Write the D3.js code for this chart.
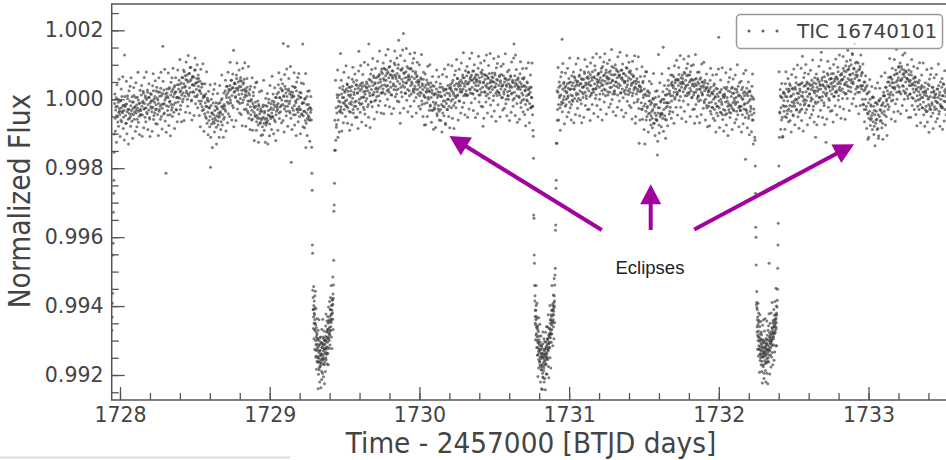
<!DOCTYPE html>
<html>
<head>
<meta charset="utf-8">
<script src="https://cdn.jsdelivr.net/npm/d3@7"></script>
<style>
  body { margin: 0; background: #ffffff; }
  svg { display: block; }
</style>
</head>
<body>
<svg id="chart" width="946" height="460"></svg>
<script>
// TESS light curve of TIC 16740101.
// Each block is sampled at a fixed cadence; flux is stored in units of 1e-5 around 1.
// Blocks 8-11 are the interleaved in-between samples of the baseline stretches,
// blocks 12-14 the interleaved samples of the three eclipse floors.
var segStart = [1727.946, 1727.964, 1729.277, 1729.438, 1730.757, 1730.918, 1732.240, 1732.401,
                1727.96575, 1729.43975, 1730.91975, 1732.40275,
                1729.2906, 1730.7722, 1732.2536];
var segStep  = [0.0016, 0.0035, 0.0016, 0.0035, 0.0016, 0.0035, 0.0016, 0.0035,
                0.0035, 0.0035, 0.0035, 0.0035,
                0.0016, 0.0016, 0.0016];

var egress0 = [-670,-632,-592,-563,-452,-418,-328,-273,-235,-154,-101];

var baseA = [
  -12,-55,-31,4,-48,-20,-66,-9,-38,-27, -44,-3,-61,-25,8,-39,-18,-52,-33,128,
  -21,-47,-70,-14,-36,2,-58,-29,-41,-5, -50,-19,-33,-64,-8,-27,-45,11,-37,-22,
  5,-40,-17,-58,-26,-2,-35,-49,-11,-30, -33,12,-20,-46,-6,18,-28,-12,-52,4,
  -25,-1,-42,20,-15,-31,6,-57,-10,-22, 14,-36,-4,-23,25,-47,-9,8,-30,-16,
  -28,3,-44,21,-12,-35,9,-20,32,-50, 11,-26,154,-14,27,-40,-2,15,-215,-19,
  18,-33,4,-21,30,-8,-45,12,-15,22, -24,28,7,-38,15,40,-10,22,-31,5,
  42,-8,30,55,3,21,-18,47,12,33, 62,18,45,80,9,38,57,24,70,0,
  50,15,75,33,92,20,58,-2,41,66, 22,64,40,8,85,47,29,60,12,51,
  38,-5,26,52,-14,17,35,-22,44,4, -30,8,-42,-10,15,-55,-22,3,-38,-6,
  -62,-25,-50,-197,-18,-72,-40,-57,-11,-45, -70,-33,-54,-20,-81,-48,-29,-63,-12,-52,
  -48,-10,-36,-65,-22,2,-44,-27,-58,-15, -20,25,-35,12,38,-8,18,-42,30,5,
  40,-2,28,55,11,-18,33,142,20,47, 45,8,32,60,-5,26,50,14,38,-12,
  2,36,52,15,-10,44,27,58,6,30, 22,-28,10,35,-15,-40,18,-5,28,-22,
  -45,0,-32,-58,-12,10,-38,-25,-50,-8, -20,-65,-48,-30,-75,-15,-55,-42,-68,-28,
  -60,-35,-80,-22,-52,-70,-40,-58,-18,-75, -55,-20,-62,-45,-10,-48,-72,-30,-56,-25,
  -40,-5,-52,-30,-15,-60,-22,5,-45,-35, 15,-30,-12,20,-40,5,-22,32,-18,-2,
  25,-15,162,10,-28,38,-5,18,-35,8, -20,154,30,-12,15,-40,22,-183,5,-25,
  20,-32,8,-18,35,-45,-10,25,-28,0, -38,10,-22,-50,5,-30,18,-42,-12,160,
  -48,-10,-35,0,-62,-140,-40,8,-55,-30, -15,-52,-25,-60,-38
];

var eclipse1 = [
  -30,-60,-139,-215,-264,-423,-447,-554,
  -575,-610,-632,-598,-650,-621,-668,-640,-605,-672,
  -700,-655,-728,-690,-745,-710,-683,-760,-722,-698,
  -750,-840,-718,-762,-735,-700,-778,-745,-712,-755,
  -728,-770,-742,-705,-765,-738,-790,-720,-752,-708,
  -745,-712,-768,-730,-695,-752,-725,-740,-700,-762,
  -710,-735,-688,-750,-702,-725,-675,-718,-740,-690,
  -705,-668,-720,-650,-692,-678,-640,-700,-662,-685,
  -630,-672,-645,-610,-660,-625,-648,-598,-638,-612,
  -580,-620,-595,-565,
  -577,-539,-467,-325,-307,-244,-148,-61
];

var baseB = [
  -148,-119,-81,-40,5,-110,-20,12,-35,-8, 133,-22,15,-40,28,-10,5,-30,20,-5,
  -18,30,-2,42,-25,12,35,-12,8,-38, 25,-15,38,3,-30,50,14,-8,30,-20,
  -5,40,18,-28,32,139,0,25,-15,45, 30,-12,48,5,22,-30,40,15,-5,35,
  2,45,25,-15,160,38,10,55,-8,28, 50,12,40,68,20,-5,45,30,62,8,
  22,65,48,10,72,35,58,18,80,40, 75,30,60,90,42,15,68,55,85,25,
  40,78,62,20,95,50,35,70,12,65, 82,45,28,70,100,38,60,15,75,52,
  30,171,68,45,-70,85,20,58,90,40, 191,75,35,62,18,80,48,95,28,55,
  70,25,58,88,40,15,65,45,82,30, 20,60,38,75,5,50,68,28,55,42,
  50,10,35,62,18,-5,45,28,58,12, -75,35,5,42,20,-10,30,48,0,25,
  22,-20,35,5,-32,18,40,-8,12,-25, -28,15,-10,30,-42,5,22,-18,-35,10,
  20,-30,8,-15,35,-40,-5,25,-22,12, -70,28,-12,18,-30,40,0,-20,32,10,
  35,-5,25,48,0,20,-18,40,10,30, 5,45,28,60,12,38,-5,50,22,40,
  55,20,48,70,30,10,62,38,15,52, 25,68,45,12,78,50,30,60,18,55,
  70,35,55,15,82,48,28,65,40,58, 55,25,70,40,12,62,48,30,78,20,
  65,35,-78,50,72,22,58,40,10,68, 45,15,60,30,75,48,20,55,38,65,
  28,62,10,50,35,70,18,45,58,25, 55,20,40,65,12,48,30,72,38,5,
  42,68,15,50,28,60,0,38,55,22, 10,45,58,25,40,65,15,35,50,-2,
  48,160,20,38,128,55,10,42,30,62, 35,5,50,28,-10,45,18,60,12,38,
  0,40,25,-15,35,10,50,-5,28,15, 30,-12,20,-25,35,5,-20
];

var eclipse2 = [
  -20,-90,-107,-171,-336,-345,-452,-476,-540,
  -585,-630,-612,-655,-640,-598,-680,-662,-635,-700,
  -690,-720,-668,-742,-705,-730,-755,-698,-735,-712,
  -760,-728,-748,-775,-715,-752,-738,-785,-745,-722,
  -770,-748,-795,-806,-738,-765,-752,-780,-730,-760,
  -742,-772,-725,-758,-745,-705,-768,-735,-750,-720,
  -738,-712,-748,-700,-725,-695,-730,-710,-685,-720,
  -690,-665,-705,-678,-650,-692,-670,-640,-682,-655,
  -630,-668,-645,-612,-650,-625,-600,-640,-615,-590,
  -605,-570,-585,
  -539,-510,-490,-380,-365,-258,-235,-128
];

var baseC = [
  -128,-61,20,-15,35,5,-25,40,12,-8, 174,30,-10,45,8,25,-20,38,0,22,
  45,5,32,60,-8,28,50,12,-15,40, 10,48,30,65,2,38,55,18,42,-5,
  52,15,40,70,25,-2,45,60,20,35, 5,58,38,75,20,48,10,62,32,45,
  60,25,50,8,72,40,18,55,80,30, 20,65,45,85,30,12,58,40,70,50,
  75,35,15,62,48,90,25,55,42,68, 30,70,52,10,85,45,65,22,58,78,
  60,20,82,48,35,95,55,15,70,40, 25,72,50,88,38,62,12,80,45,65,
  70,40,18,60,85,30,55,75,22,48, 50,15,68,35,90,42,25,62,80,30,
  20,58,40,72,10,48,65,28,52,35, -70,45,15,60,30,0,50,-128,38,22,
  35,-10,25,-30,48,5,-20,30,-130,15, -35,10,-50,-20,22,-42,-5,18,-60,-15,
  -48,-10,-55,-30,0,-70,-22,-40,5,-58, -15,-62,-162,-40,130,-75,-25,-50,-8,-45,
  -40,0,-55,151,-30,-10,-48,12,-25,-60, 30,-20,15,40,-10,25,-35,10,45,-5,
  50,10,40,65,20,0,48,30,58,12, 15,55,40,72,25,48,8,62,35,50,
  60,22,45,78,30,10,55,40,68,18, 42,70,15,50,32,80,25,58,5,45,
  55,12,38,-70,45,20,60,28,2,50, 10,45,30,58,-2,38,20,50,15,35,
  40,-5,25,48,0,30,-18,35,12,22, -20,28,10,-35,35,-8,20,-25,15,0,
  25,-30,5,-12,32,-40,15,-20,8,180, -25,20,-38,0,28,-15,-45,12,-30,5,
  15,-32,-8,30,-42,5,-20,25,-12,-38, -18,22,-40,8,-25,35,-10,-30,18,-5,
  30,-15,5,-35,20,-8,38,-25,12,-20, -32,8,-20,28,-45,0,18,-28,10,-12,
  -174,-30,15,-40,-10,20,-55,-5,25,-35, -20,10,-45,-60,5,-130,-28
];

var eclipse3 = [
  -110,-119,-194,-273,-371,-400,-481,-597,
  -590,-605,-660,-640,-685,-655,-700,-672,-648,-715,
  -690,-725,-702,-740,-680,-718,-750,-695,-730,-708,
  -745,-712,-760,-728,-700,-738,-772,-720,-748,-705,
  -735,-795,-742,-718,-758,-725,-700,-745,-730,-762,
  -715,-740,-708,-752,-725,-698,-735,-760,-712,-728,
  -700,-742,-476,-718,-690,-730,-705,-685,-722,-698,
  -710,-680,-702,-672,-695,-715,-665,-690,-678,-650,
  -688,-660,-675,-645,-680,-655,-638,-670,-650,-625,
  -660,-635,-648,-620,
  -626,-603,-583,-551,-490,-423,-360,-244
];

var baseD = [
  -194,-110,-40,10,-25,-60,5,-110,-18,20, -35,15,-50,8,-20,30,-42,-5,22,-28,
  25,-18,40,-35,10,-8,32,-45,15,-12, -20,35,0,48,-30,18,-10,42,5,-38,
  30,-15,45,10,-28,125,20,-5,38,0, -12,40,22,-30,50,8,30,-18,45,15,
  40,-5,28,55,0,35,-20,48,18,25, -110,45,10,35,60,-8,28,50,5,40,
  30,136,55,8,42,20,-10,65,35,15, -125,50,18,40,70,2,35,58,25,45,
  60,15,48,30,75,8,52,38,20,65, 20,62,45,80,10,50,35,70,25,55,
  75,30,58,90,20,65,45,15,80,50, 40,85,60,25,95,55,70,35,100,48,
  133,75,45,90,162,60,105,30,80,65, 70,35,85,55,20,95,40,68,30,78,
  40,-15,25,-30,50,0,35,-20,15,-40, -116,-10,-55,-35,0,-60,-20,-48,5,-40,
  -65,-20,-78,-45,-10,-70,-35,-58,-15,-85, -113,-5,-50,-30,2,-62,-18,-40,-70,-10,
  20,-35,10,-20,35,-50,0,25,-15,15, 50,5,40,65,20,-5,58,35,12,48,
  70,30,-64,85,50,20,75,40,62,95, 35,80,55,15,95,60,40,72,25,85,
  65,20,50,78,30,60,10,55,85,40, 15,55,40,70,5,45,30,60,20,50,
  40,-5,30,50,10,-20,35,22,55,0, -15,30,5,40,-25,20,-8,35,12,-30,
  25,-20,10,-35,30,0,-15,40,-28,8, -30,20,-10,35,-40,5,25,-22,12,-5,
  15,-28,30,-10,5,40,-35,20,-15,0, -20,35,10,-25,45,-5,25,-30,18,8
];

var baseA2 = [
  15,-92,-22,-125,42,-50,0,-78,58,-35, -108,-5,30,-65,-35,65,-85,-18,-118,8,
  -15,-70,52,-100,10,-30,-130,25,-55,38, -78,62,-43,7,-113,-8,34,-58,-23,-93,
  48,-32,-80,6,78,-67,-12,-102,26,-44, -45,40,-107,-10,23,-83,63,-27,10,-65,
  79,-38,27,-88,5,45,-53,-108,17,-5, -26,-93,39,74,-59,1,-39,54,-71,24,
  35,-72,-2,-105,62,-30,20,-58,78,-15, -86,17,52,-43,-13,87,-63,4,-96,30,
  9,-46,76,-76,34,-6,-106,49,-31,62, -50,90,-15,35,-85,20,62,-30,5,-65,
  85,5,-43,43,115,-30,25,-65,63,-7, 0,85,-62,35,68,-38,108,18,55,-20,
  127,10,75,-40,53,93,-5,-60,65,43, 20,-47,85,120,-13,47,7,100,-25,70,
  60,-47,23,-80,87,-5,45,-33,103,10, -93,10,45,-50,-20,80,-70,-3,-103,23,
  -25,-80,42,-110,0,-40,-140,15,-65,28, -95,45,-60,-10,-130,-25,17,-75,-40,-110,
  40,-40,-88,-2,70,-75,-20,-110,18,-52, -30,55,-92,5,38,-68,78,-12,25,-50,
  107,-10,55,-60,33,73,-25,-80,45,23, 5,-62,70,105,-28,32,-8,85,-40,55,
  63,-44,26,-77,90,-2,48,-30,106,13, -78,25,60,-35,-5,95,-55,12,-88,38,
  -5,-60,62,-90,20,-20,-120,35,-45,48, -90,50,-55,-5,-125,-20,22,-70,-35,-105,
  25,-55,-103,-17,55,-90,-35,-125,3,-67, -68,17,-130,-33,0,-106,40,-50,-13,-88,
  67,-50,15,-100,-7,33,-65,-120,5,-17, -23,-90,42,77,-56,4,-36,57,-68,27,
  45,-62,8,-95,72,-20,30,-48,88,-5, -78,25,60,-35,-5,95,-55,12,-88,38,
  10,-45,77,-75,35,-5,-105,50,-30,63, -65,75,-30,20,-100,5,47,-45,-10,-80,
  45,-35,-83,3,75,-70,-15,-105,23,-47, -60,25,-122,-25,8
];

var baseB2 = [
  55,-25,-73,13,85,-60,-5,-95,33,-37, -30,55,-92,5,38,-68,78,-12,25,-50,
  97,-20,45,-70,23,63,-35,-90,35,13, -7,-74,58,93,-40,20,-20,73,-52,43,
  55,-52,18,-85,82,-10,40,-38,98,5, -66,37,72,-23,7,107,-43,24,-76,50,
  33,-22,100,-52,58,18,-82,73,-7,86, -22,118,13,63,-57,48,90,-2,33,-37,
  110,30,-18,68,140,-5,50,-40,88,18, 20,105,-42,55,88,-18,128,38,75,0,
  145,28,93,-22,71,111,13,-42,83,61, 40,-27,105,140,7,67,27,120,-5,90,
  100,-7,63,-40,127,35,85,7,143,50, -26,77,112,17,47,147,-3,64,-36,90,
  65,10,132,-20,90,50,-50,105,25,118, -5,135,30,80,-40,65,107,15,50,-20,
  100,20,-28,58,130,-15,40,-50,78,8, -12,73,-74,23,56,-50,96,6,43,-32,
  100,-17,48,-67,26,66,-32,-87,38,16, -15,-82,50,85,-48,12,-28,65,-60,35,
  45,-62,8,-95,72,-20,30,-48,88,-5, -73,30,65,-30,0,100,-50,17,-83,43,
  30,-25,97,-55,55,15,-85,70,-10,83, -25,115,10,60,-60,45,87,-5,30,-40,
  105,25,-23,63,135,-10,45,-45,83,13, 10,95,-52,45,78,-28,118,28,65,-10,
  134,17,82,-33,60,100,2,-53,72,50, 25,-42,90,125,-8,52,12,105,-20,75,
  85,-22,48,-55,112,20,70,-8,128,35, -40,63,98,3,33,133,-17,50,-50,76,
  51,-4,118,-34,76,36,-64,91,11,104, -16,124,19,69,-51,54,96,4,39,-31,
  102,22,-26,60,132,-13,42,-48,80,10, 0,85,-62,35,68,-38,108,18,55,-20,
  120,3,68,-47,46,86,-12,-67,58,36, 9,-58,74,109,-24,36,-4,89,-36,59,
  63,-44,26,-77,90,-2,48,-30,106,13, -68,35,70,-25,5,105,-45
];

var baseC2 = [
  25,-30,92,-60,50,10,-90,65,-15,78, -36,104,-1,49,-71,34,76,-16,19,-51,
  90,10,-38,48,120,-25,30,-60,68,-2, -6,79,-68,29,62,-44,102,12,49,-26,
  119,2,67,-48,45,85,-13,-68,57,35, 15,-52,80,115,-18,42,2,95,-30,65,
  78,-29,41,-62,105,13,63,-15,121,28, -41,62,97,2,32,132,-18,49,-51,75,
  55,0,122,-30,80,40,-60,95,15,108, -8,132,27,77,-43,62,104,12,47,-23,
  114,34,-14,72,144,-1,54,-36,92,22, 15,100,-47,50,83,-23,123,33,70,-5,
  136,19,84,-31,62,102,4,-51,74,52, 27,-40,92,127,-6,54,14,107,-18,77,
  83,-24,46,-57,110,18,68,-10,126,33, -50,53,88,-7,23,123,-27,40,-60,66,
  27,-28,94,-58,52,12,-88,67,-13,80, -60,80,-25,25,-95,10,52,-40,-5,-75,
  45,-35,-83,3,75,-70,-15,-105,23,-47, -60,25,-122,-25,8,-98,48,-42,-5,-80,
  74,-43,22,-93,0,40,-58,-113,12,-10, -10,-77,55,90,-43,17,-23,70,-55,40,
  70,-37,33,-70,97,5,55,-23,113,20, -46,57,92,-3,27,127,-23,44,-56,70,
  50,-5,117,-35,75,35,-65,90,10,103, -15,125,20,70,-50,55,97,5,40,-30,
  100,20,-28,58,130,-15,40,-50,78,8, -6,79,-68,29,62,-44,102,12,49,-26,
  107,-10,55,-60,33,73,-25,-80,45,23, -10,-77,55,90,-43,17,-23,70,-55,40,
  45,-62,8,-95,72,-20,30,-48,88,-5, -82,21,56,-39,-9,91,-59,8,-92,34,
  10,-45,77,-75,35,-5,-105,50,-30,63, -53,87,-18,32,-88,17,59,-33,2,-68,
  70,-10,-58,28,100,-45,10,-80,48,-22, -33,52,-95,2,35,-71,75,-15,22,-53,
  84,-33,32,-83,10,50,-48,-103,22,0, -27,-94,38,73,-60,0,-40
];

var baseD2 = [
  80,-37,28,-87,6,46,-52,-107,18,-4, -20,-87,45,80,-53,7,-33,60,-65,30,
  45,-62,8,-95,72,-20,30,-48,88,-5, -74,29,64,-31,-1,99,-51,16,-84,42,
  23,-32,90,-62,48,8,-92,63,-17,76, -39,101,-4,46,-74,31,73,-19,16,-54,
  84,4,-44,42,114,-31,24,-66,62,-8, -12,73,-74,23,56,-50,96,6,43,-32,
  114,-3,62,-53,40,80,-18,-73,52,30, 10,-57,75,110,-23,37,-3,90,-35,60,
  74,-33,37,-66,101,9,59,-19,117,24, -45,58,93,-2,28,128,-22,45,-55,71,
  57,2,124,-28,82,42,-58,97,17,110, 2,142,37,87,-33,72,114,22,57,-13,
  130,50,2,88,160,15,70,-20,108,38, 20,105,-42,55,88,-18,128,38,75,0,
  102,-15,50,-65,28,68,-30,-85,40,18, -43,-110,22,57,-76,-16,-56,37,-88,7,
  5,-102,-32,-135,32,-60,-10,-88,48,-45, -106,-3,32,-63,-33,67,-83,-16,-116,10,
  10,-45,77,-75,35,-5,-105,50,-30,63, -22,118,13,63,-57,48,90,-2,33,-37,
  115,35,-13,73,145,0,55,-35,93,23, 20,105,-42,55,88,-18,128,38,75,0,
  134,17,82,-33,60,100,2,-53,72,50, 15,-52,80,115,-18,42,2,95,-30,65,
  63,-44,26,-77,90,-2,48,-30,106,13, -68,35,70,-25,5,105,-45,22,-78,48,
  19,-36,86,-66,44,4,-96,59,-21,72, -50,90,-15,35,-85,20,62,-30,5,-65,
  72,-8,-56,30,102,-43,12,-78,50,-20, -25,60,-87,10,43,-63,83,-7,30,-45
];

var floor1 = [
  -610,-665,-543,-695,-585,-625,-725,-570,-650,-557,
  -748,-608,-713,-663,-783,-678,-636,-728,-693,-763,
  -670,-750,-798,-712,-640,-785,-730,-820,-692,-762,
  -775,-690,-837,-740,-707,-813,-667,-757,-720,-795,
  -638,-755,-690,-805,-712,-672,-770,-825,-700,-722,
  -723,-790,-658,-623,-756,-696,-736,-643,-768,-673,
  -630,-737,-667,-770,-603,-695,-645,-723,-587,-680,
  -713,-610,-575,-670,-640,-540,-690,-623,-723,-597,
  -583,-638,-516,-668
];

var floor2 = [
  -570,-650,-698,-612,-540,-685,-630,-720,-592,-662,
  -742,-657,-804,-707,-674,-780,-634,-724,-687,-762,
  -653,-770,-705,-820,-727,-687,-785,-840,-715,-737,
  -775,-842,-710,-675,-808,-748,-788,-695,-820,-725,
  -703,-810,-740,-843,-676,-768,-718,-796,-660,-753,
  -798,-695,-660,-755,-725,-625,-775,-708,-808,-682,
  -665,-720,-598,-750,-640,-680,-780,-625,-705,-612,
  -680,-540,-645,-595,-715,-610,-568,-660,-625,-695,
  -520,-600,-648
];

var floor3 = [
  -558,-675,-610,-725,-632,-592,-690,-745,-620,-642,
  -725,-792,-660,-625,-758,-698,-738,-645,-770,-675,
  -683,-790,-720,-823,-656,-748,-698,-776,-640,-733,
  -810,-707,-672,-767,-737,-637,-787,-720,-820,-694,
  -710,-765,-643,-795,-685,-725,-825,-670,-750,-657,
  -762,-622,-727,-677,-797,-692,-650,-742,-707,-777,
  -620,-700,-748,-662,-590,-735,-680,-770,-642,-712,
  -695,-610,-757,-660,-627,-733,-587,-677,-640,-715,
  -548,-665,-600,-715
];

var segFlux = [egress0, baseA, eclipse1, baseB, eclipse2, baseC, eclipse3, baseD,
               baseA2, baseB2, baseC2, baseD2,
               floor1, floor2, floor3];

// axis ticks and labels
var xTicks = [1728, 1729, 1730, 1731, 1732, 1733];
var yTicks = [0.992, 0.994, 0.996, 0.998, 1.000, 1.002];
var legendLabel = "TIC 16740101";
var xLabel = "Time - 2457000 [BTJD days]";
var yLabel = "Normalized Flux";

// annotation: arrow tails and tips in data coordinates [time, flux]
var noteText = "Eclipses";
var notePos = [1731.540, 0.99493];
var arrowTail = [[1731.218, 0.996207], [1731.545, 0.996207], [1731.836, 0.996221]];
var arrowTip  = [[1730.200, 0.998934], [1731.545, 0.997532], [1732.903, 0.998693]];

var plot = { left: 111.7, right: 946, top: 4, bottom: 400 };
var axisColor = "#555555";
var textColor = "#444444";
var noteColor = "#a1049d";

var points = [];
segFlux.forEach(function(vals, s) {
  vals.forEach(function(v, i) {
    points.push({ t: segStart[s] + i * segStep[s], f: 1 + v * 1e-5 });
  });
});

var svg = d3.select("#chart");

var x = d3.scaleLinear().domain([1727.9445, 1733.5175]).range([plot.left, plot.right]);
var y = d3.scaleLinear().domain([0.991275, 1.002763]).range([plot.bottom, plot.top]);

svg.append("defs").append("clipPath").attr("id", "plotclip")
  .append("rect")
    .attr("x", plot.left).attr("y", plot.top)
    .attr("width", plot.right - plot.left).attr("height", plot.bottom - plot.top);

// light curve points
svg.append("g")
    .attr("class", "points")
    .attr("clip-path", "url(#plotclip)")
  .selectAll("circle")
  .data(points)
  .enter().append("circle")
    .attr("cx", function(d) { return x(d.t); })
    .attr("cy", function(d) { return y(d.f); })
    .attr("r", 1.5)
    .style("fill", "#3a3a3a")
    .style("opacity", 0.66);

// ticks point inwards, majors long and minors short
var minorX = d3.range(1728, 1733.5, 0.2);
var minorY = d3.range(0.9915, 1.0027, 0.0005);

function styleAxis(g) {
  g.select(".domain").remove();
  g.selectAll(".tick line").style("stroke", axisColor).style("stroke-width", 1.3);
  g.selectAll(".tick text")
    .style("fill", textColor)
    .style("font-family", "'DejaVu Sans', sans-serif")
    .style("font-size", "20.5px");
}

svg.append("g")
    .attr("transform", "translate(0," + plot.bottom + ")")
    .call(d3.axisBottom(x).tickValues(minorX).tickSize(-7).tickFormat(""))
    .call(styleAxis);

svg.append("g")
    .attr("transform", "translate(0," + plot.bottom + ")")
    .call(d3.axisBottom(x).tickValues(xTicks).tickSize(-13).tickPadding(7.4).tickFormat(d3.format("d")))
    .call(styleAxis);

svg.append("g")
    .attr("transform", "translate(" + plot.left + ",0)")
    .call(d3.axisLeft(y).tickValues(minorY).tickSize(-7).tickFormat(""))
    .call(styleAxis);

svg.append("g")
    .attr("transform", "translate(" + plot.left + ",0)")
    .call(d3.axisLeft(y).tickValues(yTicks).tickSize(-13).tickPadding(8.2).tickFormat(d3.format(".3f")))
    .call(styleAxis);

// frame (right side is cut off in the original)
svg.append("path")
    .attr("d", "M" + plot.right + "," + plot.top + "H" + plot.left + "V" + plot.bottom + "H" + plot.right)
    .style("fill", "none")
    .style("stroke", axisColor)
    .style("stroke-width", 1.5);

// axis labels
svg.append("text")
    .attr("transform", "translate(531,453.3) scale(1,1.09)")
    .attr("text-anchor", "middle")
    .style("font-family", "'DejaVu Sans', sans-serif")
    .style("font-size", "26.4px")
    .style("fill", textColor)
    .text(xLabel);

svg.append("text")
    .attr("transform", "translate(30,201) rotate(-90) scale(1,1.12)")
    .attr("text-anchor", "middle")
    .style("font-family", "'DejaVu Sans', sans-serif")
    .style("font-size", "26.6px")
    .style("fill", textColor)
    .text(yLabel);

// legend
var legend = svg.append("g").attr("class", "legend");
legend.append("rect")
    .attr("x", 736.5).attr("y", 14.5)
    .attr("width", 206).attr("height", 34)
    .attr("rx", 4)
    .style("fill", "#ffffff")
    .style("fill-opacity", 0.8)
    .style("stroke", "#999999")
    .style("stroke-width", 1.5);
legend.selectAll("circle")
  .data([749, 763, 777])
  .enter().append("circle")
    .attr("cx", function(d) { return d; })
    .attr("cy", 31)
    .attr("r", 1.5)
    .style("fill", "#3a3a3a")
    .style("opacity", 0.8);
legend.append("text")
    .attr("x", 797).attr("y", 38.3)
    .style("font-family", "'DejaVu Sans', sans-serif")
    .style("font-size", "20px")
    .style("fill", textColor)
    .text(legendLabel);

// annotation arrows
var headLen = 20, headHalf = 10.5;
var notes = svg.append("g").attr("class", "notes");
arrowTail.forEach(function(tail, i) {
  var x0 = x(tail[0]), y0 = y(tail[1]);
  var x1 = x(arrowTip[i][0]), y1 = y(arrowTip[i][1]);
  var dx = x1 - x0, dy = y1 - y0, len = Math.sqrt(dx * dx + dy * dy);
  var ux = dx / len, uy = dy / len;
  var bx = x1 - ux * headLen, by = y1 - uy * headLen;
  notes.append("line")
      .attr("x1", x0).attr("y1", y0)
      .attr("x2", bx + ux * 2).attr("y2", by + uy * 2)
      .style("stroke", noteColor)
      .style("stroke-width", 4);
  notes.append("path")
      .attr("d", "M" + x1 + "," + y1 +
                 "L" + (bx - uy * headHalf) + "," + (by + ux * headHalf) +
                 "L" + (bx + uy * headHalf) + "," + (by - ux * headHalf) + "Z")
      .style("fill", noteColor);
});

notes.append("text")
    .attr("x", x(notePos[0])).attr("y", y(notePos[1]))
    .attr("text-anchor", "middle")
    .style("font-family", "'Liberation Sans', Arial, sans-serif")
    .style("font-size", "18.5px")
    .style("fill", "#222222")
    .text(noteText);

// faint remnant of a page border under the figure
svg.append("line")
    .attr("x1", 0).attr("x2", 290)
    .attr("y1", 457.5).attr("y2", 457.5)
    .style("stroke", "#dcdcdc")
    .style("stroke-width", 2);
</script>
</body>
</html>
